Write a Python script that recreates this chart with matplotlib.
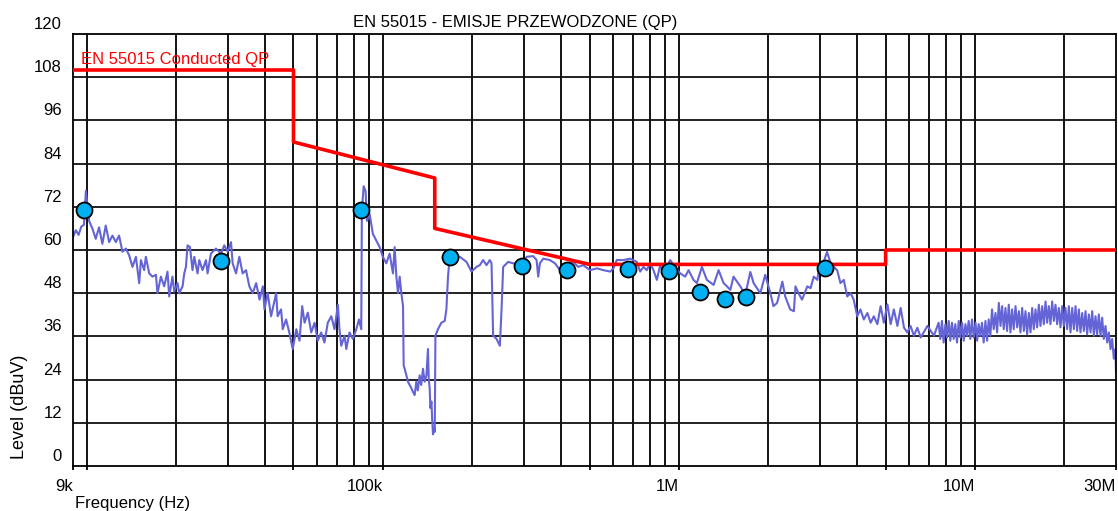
import matplotlib
matplotlib.use('Agg')
import matplotlib.pyplot as plt
from matplotlib.ticker import FixedLocator, NullFormatter
from matplotlib.transforms import ScaledTranslation

plt.rcParams['font.family'] = ['Liberation Sans', 'DejaVu Sans']

# limit line EN 55015 conducted, quasi-peak
limit_freq = [9e3, 50e3, 50e3, 150e3, 150e3, 500e3, 5e6, 5e6, 30e6]
limit_level = [110, 110, 90, 80, 66, 56, 56, 60, 60]

# QP measurement points
peak_khz = [9.81, 28.45, 84.7, 168.5, 294.7, 420.5, 676, 929, 1176, 1429, 1688, 3130]
peak_level = [71.2, 57.0, 71.1, 58.0, 55.6, 54.4, 54.7, 54.2, 48.3, 46.5, 46.9, 55.1]

# pre-scan trace (kHz, dBuV)
scan_khz = [
    9.0, 9.2, 9.4, 9.6, 9.8, 9.95, 10.2, 10.46, 10.74, 11.02, 11.31, 11.61, 11.92, 12.23,
    12.56, 12.88, 13.05, 13.22, 13.58, 13.93, 14.29, 14.68, 15.06, 15.26, 15.65, 15.86,
    16.28, 16.70, 17.15, 17.36, 17.83, 18.29, 18.77, 19.02, 19.51, 19.78, 20.29, 20.56,
    21.10, 21.38, 21.66, 21.94, 22.35, 22.80, 23.11, 23.71, 24.03, 24.65, 25.31, 25.63,
    26.31, 27.36, 28.45, 29.19, 29.96, 30.76, 31.15, 31.98, 32.81, 33.67, 34.57, 35.47,
    36.4, 37.4, 38.4, 39.4, 39.9, 40.9, 42.0, 43.7, 44.2, 45.4, 46.0, 47.2, 48.4, 49.7,
    51.1, 52.4, 53.5, 54.5, 55.9, 57.4, 58.9, 60.4, 62.0, 63.6, 65.3, 67.1, 68.8, 70.6,
    71.5, 72.5, 74.4, 75.4, 77.3, 79.3, 81.5, 83.2, 84.7, 85.1, 86.3, 87.6, 88.5, 90.4,
    92.7, 95.2, 97.7, 100.2, 102.9, 105.6, 108.4, 109.8, 111.3, 112.7, 114.2, 115.7,
    117.2, 117.8, 118.7, 120.3, 121.8, 123.4, 125.1, 126.6, 128.3, 130.0, 131.5, 133.4,
    135.0, 136.9, 138.7, 140.6, 142.3, 143.2, 144.2, 145.0, 146.2, 147.0, 148.0, 149.2,
    150.0, 150.8, 153.8, 157.9, 162.1, 164.2, 166.3, 168.5, 170.8, 182.2, 192.0, 199.6,
    207.6, 213.0, 218.5, 224.4, 230.2, 233.3, 236.2, 242.6, 248.9, 252.2, 255.4, 265.5,
    276.0, 294.7, 306.4, 322.5, 331.2, 335.4, 339.8, 348.7, 367.3, 382.0, 397.2,
    440, 458, 476, 502, 529, 557, 587, 602, 618, 651, 685, 722, 741, 760, 780, 801, 822,
    844, 866, 888, 936, 973, 1012, 1052, 1080, 1122, 1152, 1198, 1245, 1312, 1364, 1418,
    1456, 1494, 1532, 1615, 1679, 1746, 1791, 1887,
    1960, 2040, 2090, 2150, 2240, 2290, 2380, 2450, 2480, 2540, 2610, 2720, 2790, 2860,
    2940, 2970, 3050, 3130, 3170, 3260, 3340, 3430, 3520, 3610, 3710, 3810, 3900, 4010,
    4110, 4220, 4340, 4450, 4560, 4690, 4810, 4930, 5070, 5200, 5330, 5480, 5620, 5770,
    5920, 6070, 6230, 6400, 6570, 6920, 7280,
    7550, 7650, 7750, 7850, 7960, 8060, 8170, 8270, 8380, 8490, 8600, 8710, 8830, 8940,
    9060, 9180, 9300, 9420, 9540, 9660, 9790, 9920, 10060, 10190, 10310, 10450, 10580,
    10720, 10870, 11010, 11150, 11290, 11440, 11590, 11750, 11900, 12060, 12220, 12370,
    12530, 12700, 12860, 13030, 13200, 13370, 13540, 13730, 13910, 14090, 14270, 14460,
    14650, 14840, 15030, 15230, 15430, 15630, 15830, 16040, 16250, 16460, 16670, 16890,
    17110, 17340, 17560, 17790, 18020, 18260, 18500, 18740, 18980, 19230, 19480, 19740,
    19990, 20260, 20520, 20790, 21060, 21340, 21620, 21900, 22180, 22470, 22760, 23060,
    23360, 23670, 23970, 24290, 24610, 24930, 25250, 25580, 25910, 26250, 26590, 26940,
    27290, 27650, 28010, 28380, 28750, 29120, 29500, 29890, 30000,
]
scan_level = [
    63.6, 65.5, 64.2, 66.5, 67.0, 76.5, 68.1, 66.0, 63.1, 66.3, 61.7, 66.8, 62.2, 64.0,
    62.2, 64.0, 61.7, 59.5, 60.4, 58.5, 55.3, 58.1, 50.8, 57.2, 54.4, 58.1,
    53.5, 52.6, 53.1, 48.0, 52.6, 49.9, 54.0, 47.1, 52.6, 48.5, 50.8, 48.0,
    49.9, 53.5, 55.3, 61.3, 60.8, 54.4, 58.1, 53.5, 57.2, 54.4, 57.2, 53.5,
    59.0, 60.4, 59.0, 61.3, 59.5, 62.2, 56.3, 53.5, 58.1, 53.5, 54.4, 49.9,
    48.0, 50.8, 46.2, 49.9, 43.5, 48.0, 41.6, 48.0, 41.6, 43.5, 38.0, 40.7, 37.1, 32.5,
    38.0, 34.8, 44.4, 39.8, 42.6, 37.1, 39.8, 34.8, 37.1, 34.3, 39.8, 41.6, 38.0, 44.8,
    38.0, 33.4, 36.2, 32.5, 37.1, 35.3, 38.0, 40.7, 38.0, 70.9, 77.7, 76.3, 68.1, 70.0,
    64.5, 62.6, 60.8, 58.1, 56.3, 59.0, 53.5, 60.8, 52.6, 48.0, 52.6, 48.0,
    44.4, 27.9, 27.0, 25.2, 23.4, 22.5, 21.6, 20.6, 19.7, 23.4, 21.0, 25.2,
    22.5, 27.0, 23.4, 25.2, 32.5, 24.0, 21.6, 16.1, 17.9, 13.0, 8.8, 10.6,
    9.5, 36.2, 38.0, 39.8, 40.3, 43.5, 52.6, 58.1, 58.3, 58.1, 56.7, 54.0,
    55.3, 55.8, 57.2, 55.8, 57.2, 56.3, 36.2, 35.3, 33.4, 43.5, 55.3, 56.7,
    56.3, 56.0, 58.1, 58.3, 57.2, 52.6, 56.3, 57.6, 57.2, 56.3, 54.4,
    56.7, 55.3, 55.8, 54.4, 54.9, 54.4, 54.0, 54.9, 57.2, 57.2, 57.6, 56.7, 54.0, 55.3, 54.4, 56.3, 54.4,
    51.7, 55.8, 53.5, 57.2, 55.3, 53.5, 52.6, 54.4, 51.7, 50.8, 55.3, 51.7, 50.3, 54.4, 50.8,
    49.9, 48.9, 52.6, 49.9, 47.6, 53.9, 50.8, 48.0,
    53.1, 48.0, 44.4, 45.3, 51.2, 47.1, 43.5, 43.0, 49.9, 48.0, 46.2, 49.9, 49.4, 52.6,
    51.7, 54.4, 55.3, 58.1, 59.5, 56.3, 55.3, 54.4, 50.8, 51.7, 47.1, 48.0, 46.2, 41.6,
    43.5, 40.7, 42.5, 39.8, 41.6, 39.4, 44.4, 39.8, 44.9, 39.4, 43.5, 38.9, 43.9, 38.4,
    37.1, 38.9, 36.2, 38.4, 35.7, 38.9, 36.2,
    39.8, 35.3, 40.3, 34.3, 39.4, 35.7, 40.3, 34.8, 39.8, 35.3, 39.4, 34.3, 40.3, 35.7,
    39.8, 34.8, 39.4, 36.2, 40.3, 35.3, 40.7, 35.7, 39.8, 34.8, 39.4, 36.2, 39.8,
    34.3, 40.3, 34.8, 40.7, 36.2, 43.5, 38.0, 42.5, 37.1, 45.3, 38.9, 44.4,
    38.0, 43.9, 37.5, 44.8, 37.1, 43.5, 38.0, 44.4, 38.5, 43.0, 37.1, 43.9,
    37.5, 43.0, 36.6, 42.5, 37.1, 43.9, 38.0, 43.5, 38.5, 44.8, 38.9, 44.4,
    39.4, 45.7, 39.8, 44.4, 39.4, 45.7, 40.3, 44.8, 39.4, 43.9, 38.5, 44.4,
    38.9, 43.9, 38.0, 44.4, 37.1, 43.9, 38.0, 44.4, 37.5, 43.5, 37.1, 42.5,
    37.5, 43.0, 36.6, 42.1, 37.1, 43.0, 36.2, 41.6, 36.6, 42.1, 36.2, 41.2,
    35.3, 38.9, 34.3, 37.1, 32.5, 35.3, 29.8, 32.5, 26.1,
]

x_ticks = [9e3, 1e5, 1e6, 1e7, 3e7]
x_tick_labels = ['9k', '100k', '1M', '10M', '30M']
y_ticks = list(range(0, 121, 12))

fig = plt.figure(figsize=(11.18, 5.11), dpi=100)
ax = fig.add_axes([73 / 1118, 45 / 511, 1043 / 1118, 432 / 511])
ax.set_xscale('log')
ax.set_xlim(9e3, 3e7)
ax.set_ylim(1.4, 120)

# grid: every 1..9 x decade, black
grid_f = [k * 10 ** e for e in range(4, 8) for k in range(1, 10) if 9e3 < k * 10 ** e < 3e7]
for f in grid_f:
    ax.axvline(f, color='black', lw=1.3, zorder=1)
for y in y_ticks[1:-1]:
    ax.axhline(y, color='#111111', lw=1.3, zorder=1)

scan_freq = [k * 1e3 for k in scan_khz]
ax.plot(scan_freq, scan_level, color='#6464d6', lw=1.5, zorder=2)
ax.plot(limit_freq, limit_level, color='#ff0000', lw=2.6, zorder=3)
ax.plot([k * 1e3 for k in peak_khz], peak_level, 'o', ms=11.5, mfc='#00b0f0',
        mec='black', mew=1.3, zorder=4)

ax.text(0.008, 0.94, 'EN 55015 Conducted QP', transform=ax.transAxes,
        color='#ff0000', fontsize=12, va='center', ha='left')

ax.set_xticks(x_ticks)
ax.set_xticklabels(x_tick_labels, ha='right', fontsize=12)
ax.xaxis.set_minor_locator(FixedLocator([1e4, 5e4, 5e5, 5e6]))
ax.xaxis.set_minor_formatter(NullFormatter())
ax.tick_params(axis='x', which='both', direction='out', length=3, width=1.3, pad=6)
ax.set_yticks(y_ticks)
ax.set_yticklabels([str(v) for v in y_ticks], fontsize=12)
ax.tick_params(axis='y', length=0, pad=8)
shift = ScaledTranslation(0, 0.11, fig.dpi_scale_trans)
for lab in ax.get_yticklabels():
    lab.set_transform(lab.get_transform() + shift)

for s in ax.spines.values():
    s.set_color('black')
    s.set_linewidth(1.3)

fig.text(515 / 1118, 1 - 22 / 511, 'EN 55015 - EMISJE PRZEWODZONE (QP)',
         ha='center', va='center', fontsize=12)
fig.text(20 / 1118, 1 - 407 / 511, 'Level (dBuV)', rotation=90,
         ha='center', va='center', fontsize=13)
fig.text(75 / 1118, 1 - 503 / 511, 'Frequency (Hz)', ha='left', va='center', fontsize=12)

fig.savefig('out.png', dpi=100)
